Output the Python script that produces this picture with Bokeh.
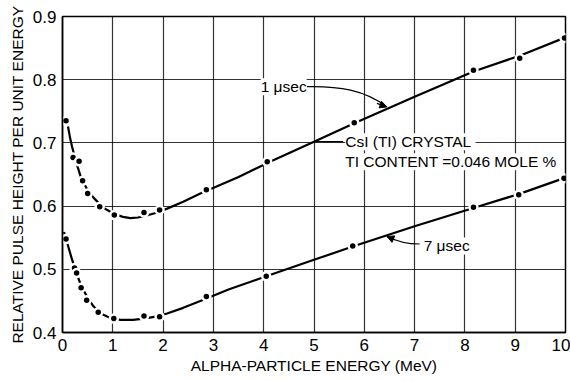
from bokeh.plotting import figure
from bokeh.models import (FixedTicker, PrintfTickFormatter, Label, Arrow, NormalHead, Range1d)
from bokeh.embed import file_html
from bokeh.resources import INLINE

# ---- data ----
x_ticks = [0, 1, 2, 3, 4, 5, 6, 7, 8, 9, 10]
y_ticks = [0.4, 0.5, 0.6, 0.7, 0.8, 0.9]

# measured points, 1 usec shaping
pts1_x = [0.07, 0.21, 0.33, 0.40, 0.50, 0.74, 1.03, 1.62, 1.93, 2.86, 4.07, 5.80, 8.17, 9.09, 9.98]
pts1_y = [0.735, 0.677, 0.671, 0.640, 0.620, 0.599, 0.586, 0.590, 0.594, 0.626, 0.670, 0.732, 0.815, 0.834, 0.866]

# measured points, 7 usec shaping
pts7_x = [0.07, 0.24, 0.28, 0.37, 0.48, 0.71, 1.02, 1.62, 1.93, 2.86, 4.05, 5.77, 8.17, 9.07, 9.97]
pts7_y = [0.548, 0.502, 0.494, 0.471, 0.451, 0.432, 0.422, 0.426, 0.425, 0.457, 0.489, 0.537, 0.598, 0.618, 0.644]

# drawn curves
curve1_x = [0.11, 0.15, 0.19, 0.27, 0.36, 0.48, 0.62, 0.80, 1.02, 1.20, 1.35, 1.50, 1.62, 1.85,
            2.08, 2.40, 2.74, 3.50, 4.07, 5.00, 5.80, 7.00, 8.17, 9.09, 10.0]
curve1_y = [0.726, 0.708, 0.694, 0.670, 0.647, 0.628, 0.613, 0.598, 0.588, 0.583, 0.581, 0.582,
            0.584, 0.589, 0.596, 0.607, 0.620, 0.646, 0.668, 0.702, 0.731, 0.773, 0.813, 0.838, 0.867]

curve7_x = [0.03, 0.10, 0.18, 0.26, 0.36, 0.49, 0.62, 0.76, 0.95, 1.15, 1.40, 1.62, 1.85, 2.08,
            2.40, 2.74, 3.30, 4.05, 5.00, 5.77, 7.00, 8.17, 9.07, 10.0]
curve7_y = [0.559, 0.540, 0.518, 0.498, 0.476, 0.456, 0.441, 0.430, 0.423, 0.420, 0.420, 0.422,
            0.425, 0.430, 0.439, 0.450, 0.468, 0.489, 0.515, 0.536, 0.568, 0.597, 0.619, 0.645]

FONT = "Liberation Sans"

p = figure(width=570, height=380, output_backend="svg", toolbar_location=None,
           x_range=Range1d(0, 10), y_range=Range1d(0.4, 0.9),
           min_border_left=62, min_border_right=5, min_border_top=16, min_border_bottom=48)

p.outline_line_color = "black"
p.outline_line_width = 1.5

for ax in (p.xaxis[0], p.yaxis[0]):
    ax.major_tick_in = 0
    ax.major_tick_out = 0
    ax.minor_tick_in = 0
    ax.minor_tick_out = 0
    ax.axis_line_color = "black"
    ax.axis_line_width = 1.5
    ax.major_label_text_font = FONT
    ax.major_label_text_font_size = "17px"
    ax.major_label_text_color = "black"
    ax.axis_label_text_font = FONT
    ax.axis_label_text_font_size = "15.5px"
    ax.axis_label_text_font_style = "normal"
    ax.axis_label_text_color = "black"

p.xaxis.ticker = FixedTicker(ticks=x_ticks)
p.yaxis.ticker = FixedTicker(ticks=y_ticks)
p.yaxis.formatter = PrintfTickFormatter(format="%.1f")
p.xaxis.major_label_standoff = 6
p.yaxis.major_label_standoff = 6
p.xaxis.axis_label_standoff = 3
p.yaxis.axis_label_standoff = 4
p.xaxis.axis_label = "ALPHA-PARTICLE ENERGY (MeV)"
p.yaxis.axis_label = "RELATIVE PULSE HEIGHT PER UNIT ENERGY"

# grid lines at the tick positions
p.grid.grid_line_color = "black"
p.grid.grid_line_width = 1.2
p.grid.grid_line_alpha = 0.8

# curves
p.line(curve1_x, curve1_y, line_color="black", line_width=2.2)
p.line(curve7_x, curve7_y, line_color="black", line_width=2.2)

# points with white ring to break the line around each dot
p.scatter(pts1_x, pts1_y, size=8, marker="circle", fill_color="black",
          line_color="white", line_width=2.5)
p.scatter(pts7_x, pts7_y, size=8, marker="circle", fill_color="black",
          line_color="white", line_width=2.5)

# annotations
lab_kw = dict(text_font=FONT, text_color="black", text_baseline="middle")
p.add_layout(Label(x=3.94, y=0.789, text="1 μsec", text_font_size="15.5px",
                   background_fill_color="white", **lab_kw))
p.bezier(x0=[4.86], y0=[0.789], x1=[6.45], y1=[0.757],
         cx0=[5.5], cy0=[0.790], cx1=[6.0], cy1=[0.784], line_color="black", line_width=1.2)
p.add_layout(Arrow(end=NormalHead(size=7, fill_color="black", line_color="black"),
                   x_start=6.25, y_start=0.7625, x_end=6.45, y_end=0.757,
                   line_color="black", line_width=1.2))

p.segment(x0=[5.0], y0=[0.702], x1=[5.58], y1=[0.702], line_color="black", line_width=1.2)
p.add_layout(Label(x=5.62, y=0.702, text="CsI (TI)  CRYSTAL", text_font_size="15.5px",
                   background_fill_color="white", **lab_kw))
p.add_layout(Label(x=5.62, y=0.670, text="TI CONTENT =0.046  MOLE %", text_font_size="15.5px",
                   background_fill_color="white", **lab_kw))

p.add_layout(Label(x=7.18, y=0.537, text="7 μsec", text_font_size="15.5px",
                   background_fill_color="white", **lab_kw))
p.bezier(x0=[7.1], y0=[0.540], x1=[6.45], y1=[0.552],
         cx0=[6.85], cy0=[0.540], cx1=[6.65], cy1=[0.544], line_color="black", line_width=1.2)
p.add_layout(Arrow(end=NormalHead(size=7, fill_color="black", line_color="black"),
                   x_start=6.6, y_start=0.547, x_end=6.45, y_end=0.552,
                   line_color="black", line_width=1.2))

open("out.html", "w").write(file_html(p, INLINE))
